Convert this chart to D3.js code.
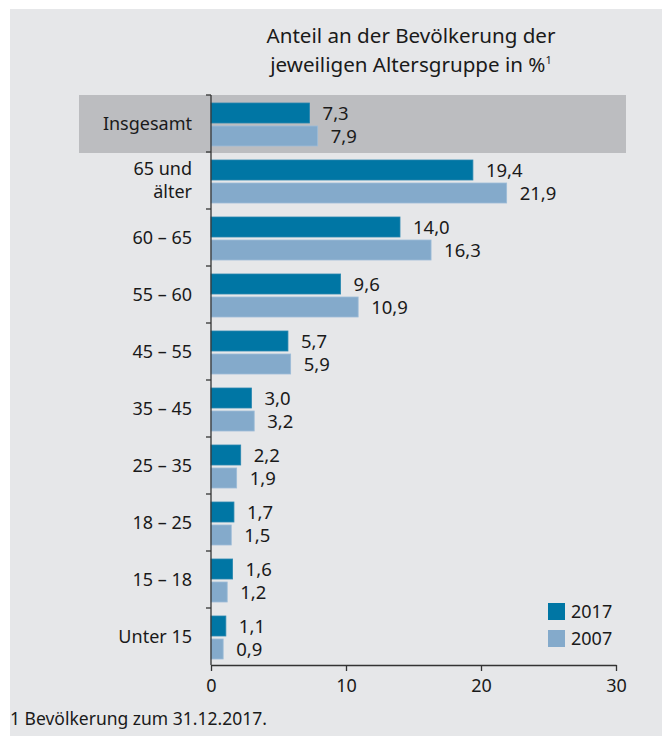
<!DOCTYPE html>
<html>
<head>
<meta charset="utf-8">
<script src="https://cdn.jsdelivr.net/npm/d3@7"></script>
<style>
  body { margin: 0; background: #fff; }
  text { font-family: "Noto Sans", "Open Sans", sans-serif; fill: #1a1a1a; }
</style>
</head>
<body>
<div id="chart"></div>
<script>
// data
var categories = ["Insgesamt", "65 und\nälter", "60 – 65", "55 – 60", "45 – 55", "35 – 45", "25 – 35", "18 – 25", "15 – 18", "Unter 15"];
var values2017 = [7.3, 19.4, 14.0, 9.6, 5.7, 3.0, 2.2, 1.7, 1.6, 1.1];
var values2007 = [7.9, 21.9, 16.3, 10.9, 5.9, 3.2, 1.9, 1.5, 1.2, 0.9];
var series = ["2017", "2007"];
var colors = ["#0076a4", "#84aacb"];
var xTicks = [0, 10, 20, 30];

var W = 662, H = 736;
var svg = d3.select("#chart").append("svg")
  .attr("width", W).attr("height", H);

// panel background
svg.append("rect")
  .attr("x", 10).attr("y", 9).attr("width", W - 10).attr("height", H - 9)
  .attr("fill", "#e6e7e9");

var plotLeft = 211, plotTop = 95, plotBottom = 665;

var x = d3.scaleLinear().domain([0, 30]).range([plotLeft, 616]);
var y = d3.scaleBand().domain(d3.range(categories.length)).range([plotTop, plotBottom]);

// highlight band for Insgesamt
svg.append("rect")
  .attr("x", 79).attr("y", y(0))
  .attr("width", 626 - 79).attr("height", y.bandwidth() + 1)
  .attr("fill", "#bcbdc0");

// title
svg.append("text").attr("x", 411).attr("y", 43)
  .attr("text-anchor", "middle").style("font-size", "20.6px")
  .text("Anteil an der Bevölkerung der");
var t2 = svg.append("text").attr("x", 411).attr("y", 72)
  .attr("text-anchor", "middle").style("font-size", "20.6px");
t2.append("tspan").text("jeweiligen Altersgruppe in %");
t2.append("tspan").attr("dy", -8).style("font-size", "11px").text("1");

// bars
var barH = 20;
var data = categories.map(function (c, i) {
  return { i: i, vals: [values2017[i], values2007[i]] };
});
var groups = svg.selectAll(".grp").data(data).enter().append("g")
  .attr("transform", function (d) { return "translate(0," + y(d.i) + ")"; });

series.forEach(function (s, k) {
  groups.append("rect")
    .attr("x", x(0))
    .attr("y", 8 + k * (barH + 3))
    .attr("width", function (d) { return x(d.vals[k]) - x(0); })
    .attr("height", barH)
    .attr("fill", colors[k])
    .attr("stroke", k == 1 ? "#9dbcd7" : "#2a87b0")
    .attr("stroke-width", 0.8);
  groups.append("text")
    .attr("x", function (d) { return x(d.vals[k]) + 13; })
    .attr("y", 8 + k * (barH + 3) + barH - 3)
    .style("font-size", "18.5px")
    .text(function (d) { return d.vals[k].toFixed(1).replace(".", ","); });
});

// category labels
groups.each(function (d) {
  var lines = categories[d.i].split("\n");
  var g = d3.select(this);
  var mid = y.bandwidth() / 2 + 6;
  lines.forEach(function (ln, j) {
    g.append("text")
      .attr("x", 192)
      .attr("y", mid + (j - (lines.length - 1) / 2) * 23)
      .attr("text-anchor", "end")
      .style("font-size", "18px")
      .text(ln);
  });
});

// y axis line with boundary ticks
svg.append("line").attr("x1", plotLeft).attr("x2", plotLeft)
  .attr("y1", plotTop).attr("y2", plotBottom)
  .attr("stroke", "#333").attr("stroke-width", 1.3);
svg.selectAll(".ytick").data(d3.range(categories.length))
  .enter().append("line")
  .attr("x1", plotLeft - 5).attr("x2", plotLeft)
  .attr("y1", function (d) { return y(d); })
  .attr("y2", function (d) { return y(d); })
  .attr("stroke", "#333").attr("stroke-width", 1.3);

// x axis
var xAxis = svg.append("g")
  .attr("transform", "translate(0," + plotBottom + ")")
  .call(d3.axisBottom(x).tickValues(xTicks).tickSize(6).tickSizeOuter(0));
xAxis.select(".domain").attr("stroke", "#333").attr("stroke-width", 1.3);
xAxis.selectAll(".tick line").attr("stroke", "#333").attr("stroke-width", 1.3);
xAxis.selectAll("text")
  .style("font-size", "18px")
  .style("font-family", "'Noto Sans', 'Open Sans', sans-serif")
  .attr("fill", "#1a1a1a")
  .attr("dy", "1.0em");

// legend
series.forEach(function (s, k) {
  svg.append("rect")
    .attr("x", 548).attr("y", 603 + k * 27)
    .attr("width", 17).attr("height", 17)
    .attr("fill", colors[k]);
  svg.append("text")
    .attr("x", 571).attr("y", 618 + k * 27)
    .style("font-size", "18px")
    .text(s);
});

// footnote
svg.append("text").attr("x", 10).attr("y", 725)
  .style("font-size", "17.5px")
  .text("1 Bevölkerung zum 31.12.2017.");
</script>
</body>
</html>
